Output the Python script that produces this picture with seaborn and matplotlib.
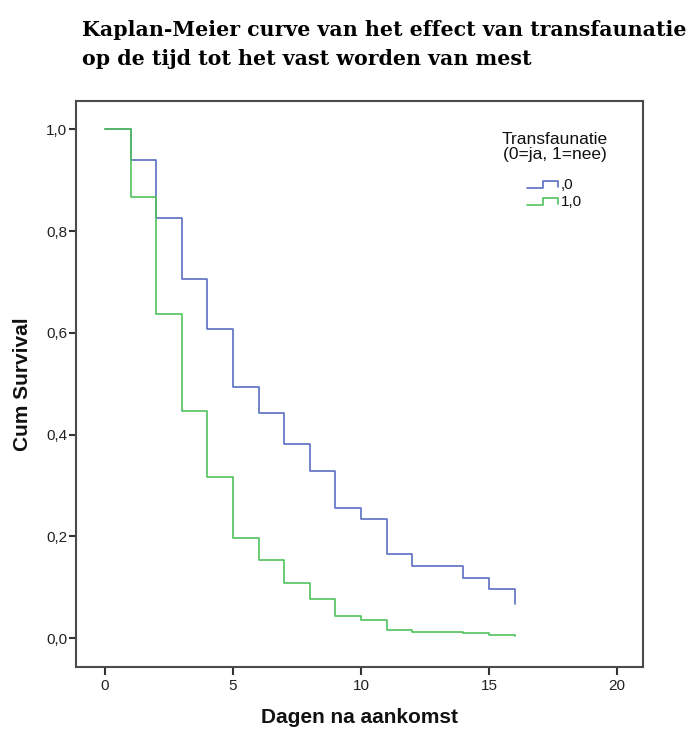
import matplotlib
matplotlib.use("Agg")
import matplotlib.pyplot as plt
from matplotlib.lines import Line2D
from matplotlib.legend_handler import HandlerBase
import seaborn as sns
import pandas as pd

# Kaplan-Meier schattingen
dagen = [0, 1, 2, 3, 4, 5, 6, 7, 8, 9, 10, 11, 12, 13, 14, 15, 16]
surv_ja = [1.0, 0.940, 0.825, 0.706, 0.608, 0.494, 0.442, 0.381, 0.328,
           0.255, 0.234, 0.165, 0.141, 0.141, 0.118, 0.096, 0.067]
surv_nee = [1.0, 0.866, 0.638, 0.447, 0.317, 0.197, 0.153, 0.108, 0.078,
            0.043, 0.035, 0.016, 0.012, 0.012, 0.010, 0.006, 0.004]
groepen = [",0", "1,0"]
kleuren = ["#5a6ec2", "#4fc25c"]

y_ticks = [0.0, 0.2, 0.4, 0.6, 0.8, 1.0]
y_labels = ["0,0", "0,2", "0,4", "0,6", "0,8", "1,0"]
x_ticks = [0, 5, 10, 15, 20]

df = pd.DataFrame({
    "dag": dagen + dagen,
    "survival": surv_ja + surv_nee,
    "groep": [groepen[0]] * len(dagen) + [groepen[1]] * len(dagen),
})

sns.set_style("white")
plt.rcParams["font.family"] = ["Liberation Sans", "DejaVu Sans"]
plt.rcParams["text.color"] = "#111111"
plt.rcParams["axes.labelcolor"] = "#111111"
plt.rcParams["xtick.color"] = "#222222"
plt.rcParams["ytick.color"] = "#222222"


# trapvormige legenda-symbolen zoals in SPSS
class StepHandler(HandlerBase):
    def create_artists(self, legend, orig_handle, xdescent, ydescent,
                       width, height, fontsize, trans):
        x0 = -xdescent
        lo = -ydescent + height * 0.1
        hi = -ydescent + height * 0.75
        xs = [x0, x0 + 0.5 * width, x0 + 0.5 * width, x0 + width, x0 + width]
        ys = [lo, lo, hi, hi, lo + 0.1 * height]
        ln = Line2D(xs, ys, color=orig_handle.get_color(),
                    lw=orig_handle.get_linewidth(), transform=trans)
        return [ln]


fig = plt.figure(figsize=(6.9, 7.31), dpi=100)
ax = fig.add_axes([0.1097, 0.088, 0.8217, 0.7739])

sns.lineplot(data=df, x="dag", y="survival", hue="groep", hue_order=groepen,
             palette=kleuren, drawstyle="steps-post", linewidth=1.2, ax=ax,
             estimator=None)

ax.set_xlim(-1.145, 21.0)
ax.set_ylim(-0.0558, 1.0556)
ax.set_xticks(x_ticks)
ax.set_xticklabels([str(t) for t in x_ticks])
ax.set_yticks(y_ticks)
ax.set_yticklabels(y_labels)
ax.tick_params(axis="y", direction="out", length=5, width=1.5, color="#333333",
               labelsize=11, pad=1, left=True)
ax.tick_params(axis="x", direction="out", length=6, width=1.5, color="#333333",
               labelsize=11, pad=3, bottom=True)
for s in ax.spines.values():
    s.set_color("#4a4a4a")
    s.set_linewidth(1.5)

ax.set_xlabel("Dagen na aankomst", fontsize=15, fontweight="bold", labelpad=11)
ax.set_ylabel("Cum Survival", fontsize=15, fontweight="bold", labelpad=10)

handles, labels = ax.get_legend_handles_labels()
leg = ax.legend(handles, labels, title="Transfaunatie\n(0=ja, 1=nee)",
                loc="upper center", bbox_to_anchor=(0.845, 0.97), frameon=False,
                fontsize=11, title_fontsize=12.5, handler_map={Line2D: StepHandler()},
                handlelength=2.0, handletextpad=0.2, labelspacing=0.2)
leg.get_title().set_multialignment("center")
leg.get_title().set_linespacing(1.0)
leg._legend_box.sep = 12

fig.text(0.119, 0.973,
         "Kaplan-Meier curve van het effect van transfaunatie\nop de tijd tot het vast worden van mest",
         ha="left", va="top", fontsize=14.8, fontweight="bold", color="black",
         family=["DejaVu Serif"], linespacing=1.55)

fig.savefig("out.png", dpi=100)
